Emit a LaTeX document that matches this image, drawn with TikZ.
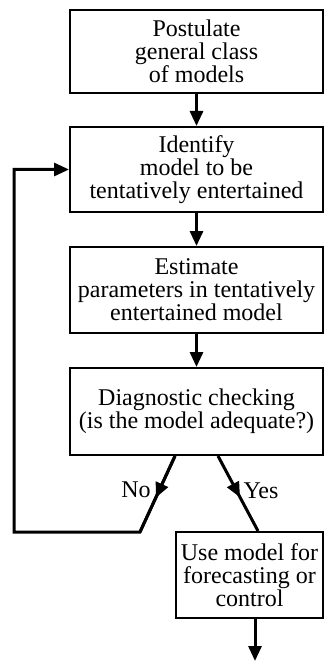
\documentclass[tikz,border=0pt]{standalone}
\usepackage{fontspec}
\setmainfont{Liberation Serif}
\usetikzlibrary{positioning,arrows.meta,decorations.markings}
\tikzset{
	>={Triangle[length=15pt,width=13pt]},
	midarrow/.style={
		postaction={decorate},
		decoration={markings, mark=at position #1 with {\arrow{>}}}
	}
}

\begin{document}
\begin{tikzpicture}[
x = 1pt, y = -1pt,
every node/.style = {
	font = \fontsize{24}{23}\selectfont,
	align = center,
	inner sep = 0pt,
},
stage/.style = {draw, line width = 2pt, minimum width = 253pt},
flow/.style = {line width = 3pt}
]
\useasboundingbox (0,0) rectangle (324,663);

\node[stage, minimum height = 83pt] (postulate) at (196.5,51.5) {Postulate\\general class\\of models};
\node[stage, minimum height = 85pt] (identify) at (196.5,169.5) {Identify\\model to be\\tentatively entertained};
\node[stage, minimum height = 86pt] (estimate) at (196.5,290) {Estimate\\parameters in tentatively\\entertained model};
\node[stage, minimum height = 87pt] (diagnose) at (196.5,411.5) {Diagnostic checking\\(is the model adequate?)};
\node[stage, minimum width = 147pt, minimum height = 86pt] (use) at (249.5,575) {Use model for\\forecasting or\\control};

\node (no) at (136,490) {No};
\node (yes) at (261,491) {Yes};

\coordinate (nofoot) at (140,532);
\coordinate (loopcorner) at (14,532);
\coordinate (out) at (255,661);

\draw[flow,->] (postulate) -- (identify);
\draw[flow,->] (identify) -- (estimate);
\draw[flow,->] (estimate) -- (diagnose);

% back to identification
\draw[flow, midarrow=.55] ([xshift=-21.5pt]diagnose.south) -- (nofoot);
\draw[flow,->] ([xshift=-21.5pt]diagnose.south) -- (nofoot) -- (loopcorner) |- (identify.west);

\draw[flow, midarrow=.55] ([xshift=21.5pt]diagnose.south) -- ([xshift=8.5pt]use.north);
\draw[flow,->] ([xshift=5.5pt]use.south) -- (out);

\end{tikzpicture}
\end{document}
